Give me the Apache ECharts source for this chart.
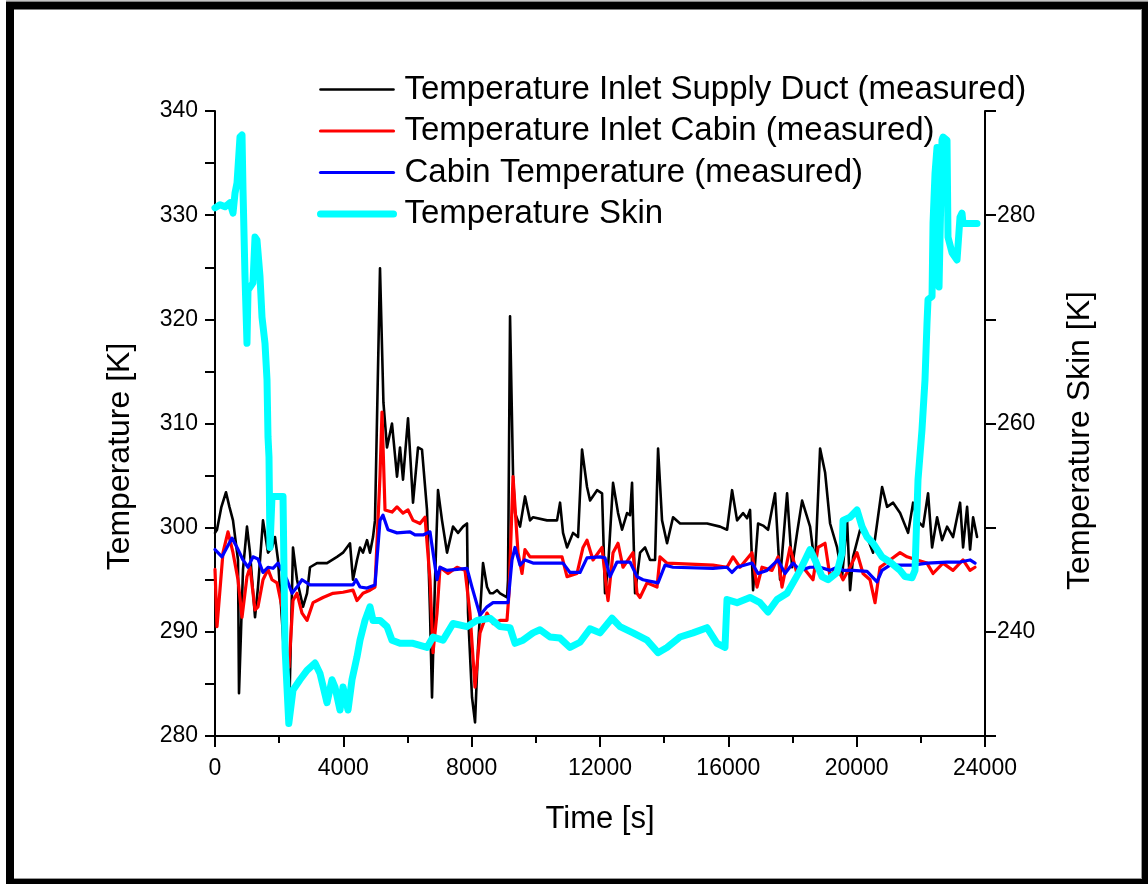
<!DOCTYPE html>
<html>
<head>
<meta charset="utf-8">
<script src="https://cdn.jsdelivr.net/npm/echarts@6/dist/echarts.min.js"></script>
<style>
  html, body { margin: 0; padding: 0; background: #fff; }
  #c { width: 1148px; height: 884px; }
</style>
</head>
<body>
<div id="c"></div>
<script>
// ---- data (time [s], value) ----
const seriesNames = [
  'Temperature Inlet Supply Duct (measured)',
  'Temperature Inlet Cabin (measured)',
  'Cabin Temperature (measured)',
  'Temperature Skin'
];
const xTicks = [0, 4000, 8000, 12000, 16000, 20000, 24000];
const leftTicks = [280, 290, 300, 310, 320, 330, 340];
const rightTicks = [240, 260, 280];

const supplyDuct = [[0,299.5],[62,299.8],[200,302],[343,303.4],[450,302],[561,300.7],[717,296.9],[748,284.1],[810,290],[873,296],[997,300.1],[1091,297.6],[1247,291.4],[1340,294.3],[1496,300.7],[1652,297.6],[1777,298.1],[1870,299.1],[1964,296.9],[2088,291.1],[2213,284.7],[2306,281.5],[2431,298.1],[2556,295],[2743,292.4],[2868,293.7],[2961,296.2],[3179,296.6],[3491,296.6],[3803,297.2],[3990,297.6],[4208,298.5],[4301,295],[4426,296.9],[4519,298.1],[4613,297.6],[4738,298.8],[4831,297.6],[4925,299.1],[4987,300.7],[5143,324.9],[5250,312],[5361,307.7],[5517,310],[5673,304.9],[5767,307.7],[5860,304.6],[6016,310.5],[6172,302.4],[6328,307.7],[6452,307.5],[6608,301.7],[6702,291.8],[6764,283.7],[6858,295],[6951,303.6],[7076,300.7],[7232,297.6],[7419,300.1],[7575,299.5],[7731,300.1],[7855,300.4],[7887,291.8],[8011,283.7],[8105,281.3],[8198,288.5],[8354,296.6],[8479,294.3],[8573,293.7],[8666,293.7],[8791,294],[8884,293.7],[9102,293.3],[9133,295],[9196,320.3],[9290,305],[9352,301.4],[9508,300.1],[9663,303],[9819,300.7],[9913,301],[10349,300.7],[10661,300.7],[10755,302.4],[10848,299.5],[10973,298.1],[11160,299.5],[11316,299.1],[11440,307.5],[11596,303.9],[11690,302.6],[11908,303.6],[12064,303.3],[12157,293.7],[12251,296.2],[12407,304.3],[12563,301.4],[12688,299.8],[12843,301.4],[12937,301.2],[12999,304.3],[13093,293.7],[13249,297.6],[13405,298.1],[13560,296.9],[13716,296.9],[13810,307.6],[13934,300.7],[14090,298.5],[14277,301],[14496,300.4],[14901,300.4],[15337,300.4],[15742,300.1],[15961,299.8],[16117,303.6],[16272,300.7],[16459,301.4],[16584,300.9],[16677,301.7],[16771,294],[16927,300.4],[17083,300.2],[17239,299.8],[17457,303.3],[17613,295],[17831,303.3],[17987,296.2],[18143,299.5],[18299,302.6],[18548,300.1],[18704,296.2],[18860,307.6],[19016,305.3],[19172,300.4],[19390,298.1],[19546,295.3],[19702,300.7],[19795,294],[19889,297.2],[20107,299.8],[20325,299.1],[20512,297.6],[20793,303.9],[20949,302],[21136,302.4],[21354,301.4],[21603,299.5],[21759,302.4],[21883,300.7],[22070,300.1],[22226,303.3],[22351,298.1],[22507,301],[22663,298.8],[22818,300.1],[23005,299.1],[23223,302.4],[23317,298.1],[23442,302],[23535,297.9],[23629,301],[23753,299.1]];

const inletCabin = [[0,296],[62,290.5],[249,297.6],[405,299.6],[561,297.6],[717,295],[842,291.4],[997,295.3],[1091,296.2],[1247,292.1],[1340,292.4],[1496,295],[1652,296],[1777,295],[1933,294.7],[2088,292.4],[2182,288.5],[2306,286.6],[2431,293],[2556,293.7],[2712,291.8],[2868,291.1],[3055,292.8],[3366,293.3],[3678,293.7],[3990,293.8],[4301,294],[4426,293],[4613,293.7],[4831,294],[4987,294.3],[5143,305],[5205,311.1],[5299,301.7],[5517,301.5],[5673,302],[5860,301.4],[6016,301.7],[6172,300.7],[6390,300.4],[6546,301],[6702,295],[6795,288],[6920,291.8],[7014,296.2],[7263,295.6],[7543,296.2],[7793,295.9],[7948,291.8],[8104,284.7],[8260,289.9],[8478,291.8],[8665,290.8],[8883,291.1],[9101,291.1],[9164,293.7],[9289,304.9],[9444,297.6],[9569,295.6],[9662,297.9],[9818,297.2],[10442,297.2],[10816,297.2],[10972,295.3],[11283,295.6],[11471,298.1],[11595,298.8],[11782,296.9],[12063,298.1],[12219,293.7],[12250,293],[12406,297.6],[12562,298.5],[12717,296.2],[13029,297.6],[13154,293.7],[13247,293.3],[13465,294.7],[13777,294.3],[13870,297.2],[14088,296.6],[15522,296.4],[15958,296.2],[16146,297.2],[16364,296.2],[16738,297.6],[16894,294.3],[17050,296.2],[17361,295.9],[17549,297.2],[17673,294.3],[17922,298.1],[18140,295.6],[18328,296.2],[18639,295],[18795,298.1],[19013,298.5],[19169,295.3],[19387,296.2],[19575,295],[19793,296.2],[20011,297.6],[20198,295.6],[20416,295],[20572,292.8],[20728,296.2],[21039,296.9],[21351,297.6],[21569,297.2],[21881,296.9],[22192,296.6],[22380,295.6],[22691,296.6],[23003,295.9],[23315,296.9],[23533,295.9],[23689,296.2]];

const cabinTemp = [[0,297.9],[218,297.2],[530,299],[686,298.1],[873,296.9],[1029,296.2],[1184,297.2],[1340,297],[1496,295.7],[1652,296.2],[1808,296.1],[1964,296.6],[2244,295],[2400,293.7],[2556,294.3],[2712,295],[2961,294.5],[3990,294.5],[4301,294.5],[4395,295],[4520,294.3],[4738,294.2],[4987,294.5],[5143,300.7],[5237,301.2],[5392,299.8],[5673,299.5],[6078,299.6],[6234,299.3],[6483,299.3],[6701,299.6],[6920,295],[7013,296.2],[7231,295.9],[7855,296.1],[8010,294.3],[8260,291.6],[8478,292.4],[8665,292.8],[9133,292.8],[9257,296.9],[9351,298.1],[9507,296.4],[9662,296.9],[9912,296.6],[10847,296.6],[11065,295.7],[11377,295.7],[11595,297.1],[12000,297.2],[12156,297.1],[12312,295.3],[12530,296.7],[12935,296.7],[13154,295.3],[13340,295],[13652,294.8],[13808,294.7],[14026,296.4],[14275,296.2],[15522,296.1],[15958,296.2],[16114,295.7],[16271,296.2],[16738,296.6],[16925,295.6],[17205,295.9],[17549,296.9],[17767,295.6],[18016,296.6],[18234,295.9],[18546,296.2],[18858,296.2],[19169,295.9],[19387,296.2],[19575,295.9],[19886,295.9],[20323,295.8],[20634,294.8],[20790,295.9],[21039,296.4],[21756,296.4],[22192,296.6],[22816,296.7],[23222,296.7],[23533,296.9],[23689,296.6]];

const skinTemp = [[0,280.7],[156,281],[312,280.8],[468,281.2],[561,280.2],[623,282.1],[686,283.1],[779,287.5],[842,287.7],[873,282.4],[935,274.1],[997,267.7],[1029,272.8],[1184,273.5],[1247,277.9],[1309,277.6],[1403,274.1],[1465,270.2],[1558,267.7],[1621,264.2],[1652,258.7],[1683,256.8],[1714,248.1],[1777,253],[2026,253],[2120,253],[2182,238.5],[2300,231.2],[2431,234.4],[2649,235.4],[2868,236.3],[3117,237],[3273,236],[3491,233.2],[3647,235.4],[3740,234.7],[3896,232.5],[3990,234.7],[4146,232.5],[4270,235.4],[4426,237.6],[4520,239.2],[4675,241.1],[4831,242.4],[4925,241.1],[5143,241.1],[5361,240.5],[5517,239.2],[5766,238.9],[6172,238.9],[6608,238.5],[6795,239.5],[7107,239.2],[7418,240.8],[7855,240.5],[8166,241.1],[8572,241.3],[8883,240.5],[9195,240.4],[9351,238.9],[9600,239.2],[9912,239.9],[10130,240.2],[10442,239.5],[10753,239.4],[11065,238.5],[11377,239],[11689,240.3],[12000,239.9],[12374,241.3],[12624,240.5],[13029,239.9],[13465,239.2],[13808,238],[14088,238.5],[14494,239.5],[14899,239.9],[15335,240.4],[15647,238.9],[15896,238.5],[15959,243.1],[16271,242.8],[16676,243.3],[16988,242.8],[17237,241.9],[17518,243.1],[17829,243.7],[18016,244.7],[18235,245.9],[18547,247.9],[18702,246.9],[18920,245.3],[19107,245],[19388,245.7],[19544,247.6],[19575,250.7],[19793,251],[20011,251.7],[20167,250.1],[20323,249.1],[20510,248.5],[20790,247.2],[21039,246.7],[21351,245.9],[21507,245.3],[21725,245.2],[21818,245.9],[21912,254.6],[22036,259.4],[22130,264.2],[22192,269.6],[22224,271.9],[22349,272.2],[22380,279.2],[22442,284],[22504,286.5],[22567,273.1],[22660,287.2],[22692,287.5],[22816,287.2],[22847,277.9],[22972,276.4],[23128,275.7],[23221,279.8],[23283,280.2],[23315,279.2],[23751,279.2]];

const seriesColors = ['#000000', '#ff0000', '#0000ff', '#00ffff'];
const seriesWidths = [2.6, 3.2, 3.2, 7];

// ---- chart ----
const FONT = '"Liberation Sans", Arial, sans-serif';
const chart = echarts.init(document.getElementById('c'), null, { renderer: 'canvas', width: 1148, height: 884 });

const axisCommon = {
  axisLine: { show: true, onZero: false, lineStyle: { color: '#000', width: 2 } },
  splitLine: { show: false },
  axisLabel: { color: '#000', fontSize: 23, fontFamily: FONT },
  nameTextStyle: { color: '#000', fontSize: 31, fontFamily: FONT }
};

const option = {
  animation: false,
  backgroundColor: '#ffffff',
  textStyle: { fontFamily: FONT },
  grid: { left: 215, right: 163, top: 111, bottom: 148 },
  legend: {
    orient: 'vertical',
    left: 317,
    top: 73,
    padding: 0,
    itemWidth: 73,
    itemHeight: 14,
    itemGap: 8.5,
    itemStyle: { opacity: 0 },
    lineStyle: { width: 'inherit' },
    data: seriesNames.map((n, i) => ({ name: n, itemStyle: { opacity: 0 }, lineStyle: { width: seriesWidths[i], color: seriesColors[i] } })),
    textStyle: { color: '#000', fontSize: 33, fontFamily: FONT, lineHeight: 33, padding: [0, 0, 0, 6] }
  },
  xAxis: Object.assign({}, axisCommon, {
    type: 'value', min: 0, max: 24000, interval: 4000,
    name: 'Time [s]', nameLocation: 'middle', nameGap: 68,
    axisTick: { show: true, inside: false, length: 11, lineStyle: { color: '#000', width: 2 } },
    minorTick: { show: true, splitNumber: 2, length: 7, lineStyle: { color: '#000', width: 2 } },
    axisLabel: Object.assign({}, axisCommon.axisLabel, {
      margin: 21,
      formatter: v => xTicks.includes(v) ? String(v) : ''
    })
  }),
  yAxis: [
    Object.assign({}, axisCommon, {
      type: 'value', position: 'left', min: 280, max: 340, interval: 5,
      name: 'Temperature [K]', nameLocation: 'middle', nameGap: 79, nameRotate: 90,
      nameTextStyle: Object.assign({}, axisCommon.nameTextStyle, { fontSize: 32, padding: [0, 66, 0, 0] }),
      axisTick: { show: true, inside: false, length: 10, lineStyle: { color: '#000', width: 2 } },
      axisLabel: Object.assign({}, axisCommon.axisLabel, {
        margin: 17,
        formatter: v => leftTicks.includes(v) ? String(v) : ''
      })
    }),
    Object.assign({}, axisCommon, {
      type: 'value', position: 'right', min: 230, max: 290, interval: 10,
      name: 'Temperature Skin [K]', nameLocation: 'middle', nameGap: 79, nameRotate: 90,
      nameTextStyle: Object.assign({}, axisCommon.nameTextStyle, { fontSize: 32, padding: [0, 34, 0, 0] }),
      axisTick: { show: true, inside: false, length: 11, lineStyle: { color: '#000', width: 2 } },
      axisLabel: Object.assign({}, axisCommon.axisLabel, {
        margin: 12,
        formatter: v => rightTicks.includes(v) ? String(v) : ''
      })
    })
  ],
  series: [
    { name: seriesNames[0], yAxisIndex: 0, data: supplyDuct },
    { name: seriesNames[1], yAxisIndex: 0, data: inletCabin },
    { name: seriesNames[2], yAxisIndex: 0, data: cabinTemp },
    { name: seriesNames[3], yAxisIndex: 1, data: skinTemp }
  ].map((s, i) => Object.assign(s, {
    type: 'line', symbol: 'none', showSymbol: false, smooth: false,
    color: seriesColors[i],
    lineStyle: { color: seriesColors[i], width: seriesWidths[i], join: 'round', cap: 'round' }
  })),
  graphic: [
    { type: 'rect', silent: true, z: 100, shape: { x: 10, y: 5.5, width: 1136, height: 877.5 }, style: { fill: null, stroke: '#000', lineWidth: 8 } },
    { type: 'line', silent: true, z: 101, shape: { x1: 6, y1: 1, x2: 1148, y2: 1 }, style: { stroke: '#888', lineWidth: 1 } },
    { type: 'line', silent: true, z: 101, shape: { x1: 1141.5, y1: 9, x2: 1141.5, y2: 879 }, style: { stroke: '#999', lineWidth: 1 } },
    { type: 'line', silent: true, z: 101, shape: { x1: 14, y1: 878.5, x2: 1142, y2: 878.5 }, style: { stroke: '#999', lineWidth: 1 } }
  ]
};
chart.setOption(option);
</script>
</body>
</html>
